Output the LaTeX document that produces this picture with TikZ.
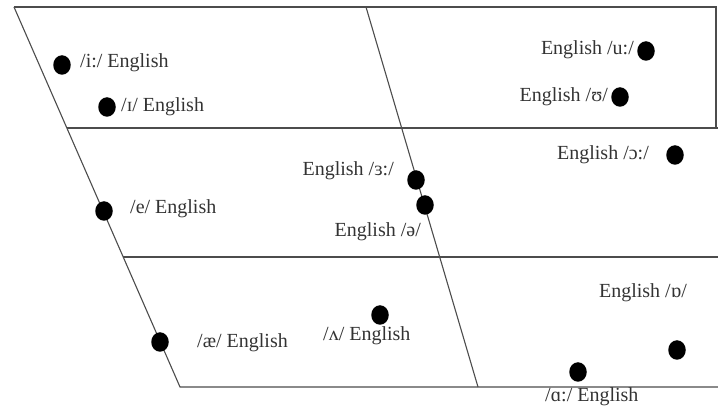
\documentclass[tikz,border=0pt]{standalone}
\usepackage{fontspec}
\setmainfont{Liberation Serif}
\begin{document}
\begin{tikzpicture}[x=1pt,y=-1pt,
  frame/.style={draw=black!70,line width=1.1pt},
  vdot/.style={ellipse,fill=black,inner sep=0pt,minimum width=17.5pt,minimum height=19.5pt},
  lab/.style={inner sep=0pt,text=black!80,font=\fontsize{20}{22}\selectfont}]
\usetikzlibrary{shapes.geometric}
\useasboundingbox (0,0) rectangle (718,411);
% frame corners
\coordinate (tl) at (14,7);
\coordinate (bl) at (180,387);
\coordinate (tm) at (366,7);
\coordinate (bm) at (478,387);
\coordinate (tr) at (716,7);
\coordinate (rr1) at (716,128);
\coordinate (l1) at (67,128);
\coordinate (r1) at (718,128);
\coordinate (l2) at (123,257);
\coordinate (r2) at (718,257);
\coordinate (br) at (718,387);
\draw[frame] (tl) -- (tr) -- (rr1);
\draw[frame] (tl) -- (bl) -- (br);
\draw[frame] (tm) -- (bm);
\draw[frame] (l1) -- (r1);
\draw[frame] (l2) -- (r2);
% dots
\node[vdot] (di) at (62,65) {};
\node[vdot] (dI) at (107,107) {};
\node[vdot] (du) at (646,51) {};
\node[vdot] (dU) at (620,97) {};
\node[vdot] (dO) at (675,155) {};
\node[vdot] (d3) at (416,180) {};
\node[vdot] (dschwa) at (425,205) {};
\node[vdot] (de) at (104,211) {};
\node[vdot] (dae) at (160,342) {};
\node[vdot] (dV) at (380,315) {};
\node[vdot] (dQ) at (677,350) {};
\node[vdot] (dA) at (578,372) {};
% labels
\node[lab,anchor=west] (li) at (80,63) {/i:/ English};
\node[lab,anchor=west] (lI) at (121,107) {/ɪ/ English};
\node[lab,anchor=east] (lu) at (634,50) {English /u:/};
\node[lab,anchor=east] (lU) at (608,97) {English /ʊ/};
\node[lab,anchor=east] (lO) at (649,155) {English /ɔ:/};
\node[lab,anchor=east] (l3) at (394,171) {English /ɜ:/};
\node[lab,anchor=east] (lschwa) at (421,232) {English /ə/};
\node[lab,anchor=west] (le) at (130,209) {/e/ English};
\node[lab,anchor=west] (lae) at (197,343) {/æ/ English};
\node[lab,anchor=west] (lV) at (323,336) {/ʌ/ English};
\node[lab,anchor=east] (lQ) at (687,293) {English /ɒ/};
\node[lab,anchor=west] (lA) at (545,397) {/ɑ:/ English};
\end{tikzpicture}
\end{document}
